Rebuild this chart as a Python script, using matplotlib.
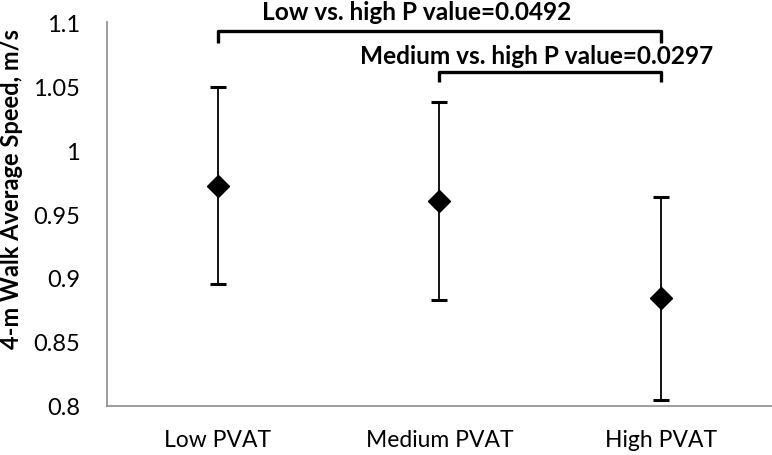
import matplotlib
matplotlib.use("Agg")
import matplotlib.pyplot as plt

plt.rcParams["font.family"] = ["Lato", "DejaVu Sans"]

# --- data ---
groups = ["Low PVAT", "Medium PVAT", "High PVAT"]
means = [0.972, 0.960, 0.884]
errs = [0.077, 0.0775, 0.0795]
yticks = [0.8, 0.85, 0.9, 0.95, 1.0, 1.05, 1.1]
ytick_labels = ["0.8", "0.85", "0.9", "0.95", "1", "1.05", "1.1"]

# comparison brackets: (from idx, to idx, bracket y, drop, label, label x, label y)
comparisons = [
    (0, 2, 1.093, 0.009, "Low vs. high P value=0.0492", 1.896, 1.1083),
    (1, 2, 1.061, 0.008, "Medium vs. high P value=0.0297", 2.437, 1.0735),
]

fig = plt.figure(figsize=(7.72, 4.56), dpi=100)
ax = fig.add_axes([0.1386, 0.1075, 0.8614, 0.842])

x = list(range(1, len(groups) + 1))
ax.errorbar(x, means, yerr=errs, fmt="D", color="black", ms=11,
            ecolor="black", elinewidth=1.3, capsize=5.5, capthick=2.2)

ax.set_xlim(0.5, 3.5)
ax.set_ylim(0.8, 1.1)
ax.set_xticks(x)
ax.set_xticklabels(groups, fontsize=16.5)
ax.set_yticks(yticks)
ax.set_yticklabels(ytick_labels, fontsize=17)
ax.tick_params(length=0)
ax.tick_params(axis="y", pad=19.5)
ax.tick_params(axis="x", pad=16.5)

for s in ["top", "right"]:
    ax.spines[s].set_visible(False)
for s in ["left", "bottom"]:
    ax.spines[s].set_color("#8c8c8c")
    ax.spines[s].set_linewidth(1.2)

for i, j, yb, drop, label, xlab, ylab in comparisons:
    xi, xj = x[i], x[j]
    ax.plot([xi, xi, xj, xj], [yb - drop, yb, yb, yb - drop], color="black",
            lw=2.4, clip_on=False, solid_capstyle="butt")
    ax.text(xlab, ylab, label, ha="center", va="center", fontsize=17.6,
            fontweight="bold", clip_on=False)

fig.text(12 / 772, 1 - 189 / 456, "4-m Walk Average Speed, m/s",
         rotation=90, ha="center", va="center", fontsize=17,
         fontweight="bold")

fig.savefig("out.png", dpi=100)
